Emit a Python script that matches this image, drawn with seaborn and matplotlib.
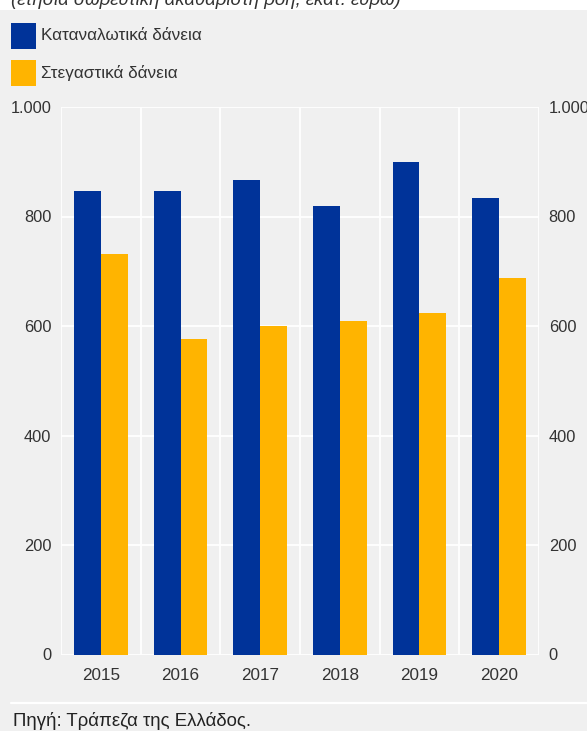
import seaborn as sns
import numpy as np
import pandas as pd
import matplotlib.pyplot as plt
from matplotlib.patches import Rectangle
from matplotlib.lines import Line2D
from matplotlib.ticker import FuncFormatter, FixedLocator

# data (annual cumulative gross flow, million euro)
years = ['2015', '2016', '2017', '2018', '2019', '2020']
consumer = [847, 847, 867, 819, 900, 834]
housing = [732, 576, 600, 609, 624, 688]
series_names = ['Καταναλωτικά δάνεια', 'Στεγαστικά δάνεια']
colors = ['#003399', '#ffb400']

subtitle = '(ετήσια σωρευτική ακαθάριστη ροή, εκατ. ευρώ)'
source_txt = 'Πηγή: Τράπεζα της Ελλάδος.'

sns.set_theme(style='white')
plt.rcParams['font.family'] = ['Liberation Sans', 'DejaVu Sans']

df = pd.DataFrame({
    'year': years * 2,
    'series': [series_names[0]] * len(years) + [series_names[1]] * len(years),
    'value': consumer + housing,
})

W, H = 587, 731
fig = plt.figure(figsize=(W / 100, H / 100), dpi=100, facecolor='#f0f0f0')

def fx(px):
    return px / W

def fy(py):
    return 1 - py / H

ax = fig.add_axes([fx(61), fy(654.5), fx(539) - fx(61), fy(107) - fy(654.5)])
ax.set_facecolor('#f0f0f0')

sns.barplot(data=df, x='year', y='value', hue='series', hue_order=series_names,
            palette=colors, width=0.675, gap=0, saturation=1, linewidth=0,
            legend=False, ax=ax)

ax.set_xlim(-0.5, len(years) - 0.5)
ax.set_ylim(0, 1000)
ax.set_yticks(np.arange(0, 1001, 200))
ax.yaxis.set_major_formatter(FuncFormatter(lambda v, p: f'{int(v):,}'.replace(',', '.')))
ax.xaxis.set_minor_locator(FixedLocator(np.arange(-0.5, len(years), 1.0)))

for s in ax.spines.values():
    s.set_visible(False)
ax.set_axisbelow(True)
ax.grid(axis='y', which='major', color='white', linewidth=1.3)
ax.grid(axis='x', which='minor', color='white', linewidth=1.3)
ax.grid(axis='x', which='major', visible=False)

ax.tick_params(axis='x', which='major', length=0, pad=10, labelsize=12.3, labelcolor='#333333')
ax.tick_params(axis='x', which='minor', length=4, width=1.3, color='white', direction='out')
ax.tick_params(axis='y', which='major', length=0, pad=7, labelsize=11.8, labelcolor='#333333',
               left=False, right=False, labelleft=True, labelright=True)
ax.set_xlabel('')
ax.set_ylabel('')

# top white strip with the (cut) subtitle
fig.add_artist(Rectangle((0, fy(9.5)), 1, 1 - fy(9.5), transform=fig.transFigure,
                         facecolor='white', edgecolor='none'))
fig.text(fx(11), fy(5), subtitle, fontsize=13.4, style='italic', color='#333333',
         ha='left', va='baseline')

# legend
for i, (name, c) in enumerate(zip(series_names, colors)):
    top = 23 + i * 37
    fig.add_artist(Rectangle((fx(11), fy(top + 26)), fx(25), fy(top) - fy(top + 26),
                             transform=fig.transFigure, facecolor=c, edgecolor='none'))
    fig.text(fx(41), fy(top + 13), name, fontsize=12.3, color='#333333',
             ha='left', va='center')

# bottom separator and source
fig.add_artist(Line2D([fx(11), 1], [fy(702.5), fy(702.5)], transform=fig.transFigure,
                      color='white', linewidth=1.6))
fig.text(fx(13), fy(721), source_txt, fontsize=13.4, color='#222222',
         ha='left', va='center')

fig.savefig('out.png', dpi=100, facecolor=fig.get_facecolor())
